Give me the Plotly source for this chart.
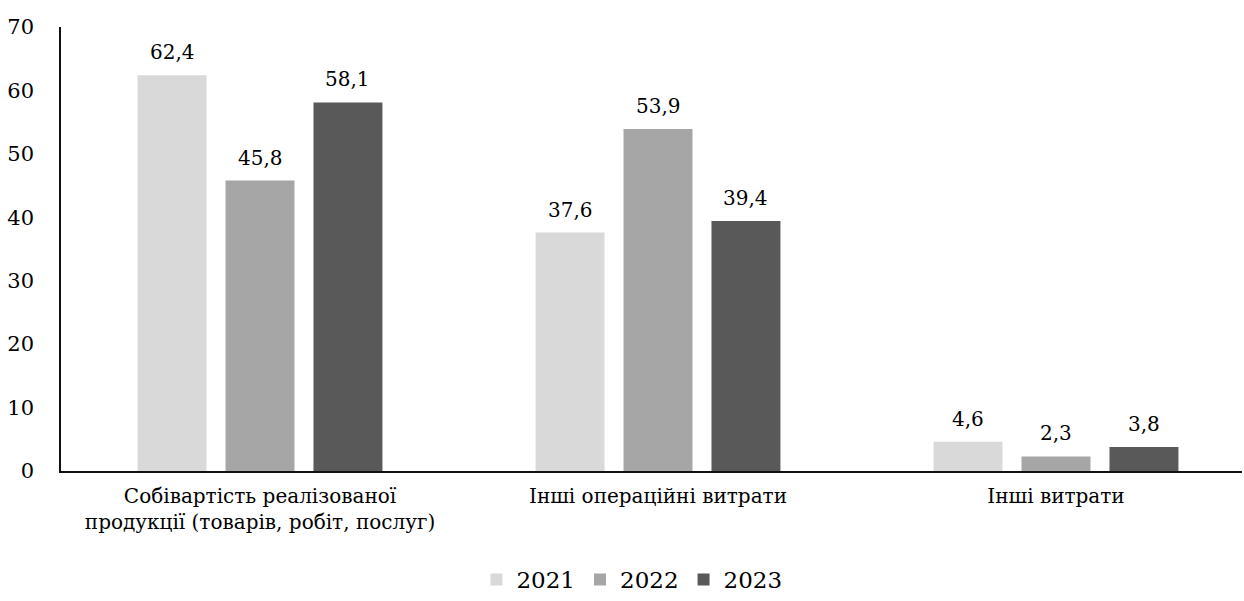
import plotly.graph_objects as go

categories = [
    "Собівартість реалізованої<br>продукції (товарів, робіт, послуг)",
    "Інші операційні витрати",
    "Інші витрати",
]
years = ["2021", "2022", "2023"]
values_2021 = [62.4, 37.6, 4.6]
values_2022 = [45.8, 53.9, 2.3]
values_2023 = [58.1, 39.4, 3.8]
colors = ["#d9d9d9", "#a6a6a6", "#595959"]

series = [values_2021, values_2022, values_2023]
FONT = "DejaVu Serif"

fig = go.Figure()
for name, vals, col in zip(years, series, colors):
    fig.add_trace(go.Bar(
        x=list(range(len(categories))), y=vals, name=name,
        marker=dict(color=col, line=dict(width=0)),
    ))

# value labels above each bar (comma as decimal separator)
slot = 0.221
for k, vals in enumerate(series):
    for i, v in enumerate(vals):
        fig.add_annotation(
            x=i + (k - 1) * slot, y=v, xref="x", yref="y",
            text=f"{v:.1f}".replace(".", ","), showarrow=False,
            yanchor="bottom", yshift=9,
            font=dict(family=FONT, size=20, color="#000000"),
        )

fig.update_layout(
    width=1244, height=601,
    margin=dict(l=61, r=2, t=27, b=130),
    paper_bgcolor="white", plot_bgcolor="white",
    barmode="group", bargap=0.337, bargroupgap=0.216,
    font=dict(family=FONT, size=20, color="#000000"),
    showlegend=True,
    legend=dict(
        orientation="h", xref="container", yref="container",
        x=0.508, xanchor="center", y=0.0, yanchor="bottom",
        font=dict(family=FONT, size=23, color="#000000"),
        itemwidth=30, tracegroupgap=0,
    ),
    xaxis=dict(
        tickmode="array", tickvals=list(range(len(categories))), ticktext=categories,
        range=[-0.5, -0.5 + 1181 / 398],
        showline=True, linecolor="#111111", linewidth=1.5,
        ticks="", showgrid=False, zeroline=False,
        tickfont=dict(family=FONT, size=20, color="#000000"),
        ticklabelstandoff=6,
    ),
    yaxis=dict(
        range=[0, 70], dtick=10, showline=True, linecolor="#111111", linewidth=1.5,
        ticks="", showgrid=False, zeroline=False,
        tickfont=dict(family=FONT, size=21, color="#000000"),
        ticklabelstandoff=21,
    ),
)

fig.write_html("out.html")
